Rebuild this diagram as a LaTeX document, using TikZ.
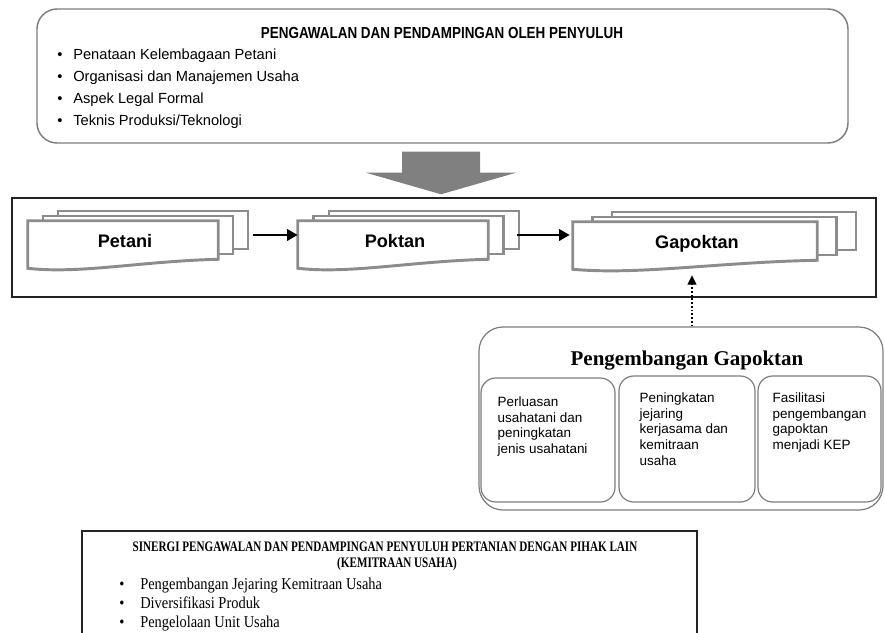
\documentclass[tikz,border=0pt]{standalone}
\usepackage{fontspec}
\setmainfont{Liberation Sans}
\newfontfamily\serifface{Liberation Serif}
\usetikzlibrary{arrows.meta,calc,fit}
\definecolor{docgray}{RGB}{140,140,140}
\definecolor{arrowgray}{RGB}{128,128,128}
\definecolor{boxgray}{RGB}{125,125,125}
\definecolor{framedark}{RGB}{35,35,35}
\newcommand\multidoc[6]{%
  \node[docback, fit={({#2+2*#5},{#3-10}) ({#2+2*#5+#4},{#3+28})}] (#13) {};
  \node[docback, fit={({#2+#5},{#3-5}) ({#2+#5+#4},{#3+33})}] (#12) {};
  \node[docfront, fit={(#2,#3) ({#2+#4},{#3+38})}] (#1) {};
  \draw[docline] (#1.north west) -- (#1.north east) -- (#1.south east)
     .. controls ($(#1.south west)!0.59!(#1.south east)+(0,2)$) and ($(#1.south west)!0.27!(#1.south east)+(0,15)$) .. ($(#1.south west)+(0,9)$) -- cycle;
  \node[doctext] (#1t) at ($(#1.center)+(2,7)$) {#6};
}
\begin{document}
\begin{tikzpicture}[x=0.75pt,y=-0.75pt,
  docback/.style={draw=docgray, line width=2.2pt, fill=white, inner sep=0pt},
  docfront/.style={inner sep=0pt},
  docline/.style={draw=docgray, line width=2.2pt, fill=white},
  doctext/.style={anchor=base, font=\fontsize{13.6}{16}\selectfont\bfseries, inner sep=0pt},
  topbox/.style={draw=boxgray, line width=1.1pt, rounded corners=15pt, inner sep=0pt},
  mainframe/.style={draw=framedark, line width=1.1pt, inner sep=0pt},
  pengbox/.style={draw=boxgray, line width=0.9pt, rounded corners=18pt, inner sep=0pt},
  subbox/.style={draw=boxgray, line width=0.9pt, rounded corners=11pt, inner sep=0pt, fill=white},
  sinbox/.style={draw=framedark, line width=1.4pt, inner sep=0pt},
  topitem/.style={anchor=base west, inner sep=0pt, font=\fontsize{11}{13}\selectfont},
  intext/.style={anchor=north west, inner sep=0pt, align=left, font=\fontsize{10.1}{11.8}\selectfont},
  sinitem/.style={anchor=base west, inner sep=0pt, font=\fontsize{12.45}{14}\serifface},
  conn/.style={line width=2.2pt, -{Triangle[length=8pt,width=8.5pt]}},
  dotconn/.style={line width=1.5pt, dash pattern=on 1.4pt off 1.4pt, -{Triangle[length=7pt,width=6.5pt]}},
]
\useasboundingbox (0,0) rectangle (885,632);
\clip (0,0) rectangle (885,632);

% top box
\node[topbox, fit={(37,9) (848,143)}] (top) {};
\node[inner sep=0pt, font=\fontsize{12}{14}\selectfont\bfseries] (toptitle) at (442,33)
  {\scalebox{0.84}[1]{PENGAWALAN DAN PENDAMPINGAN OLEH PENYULUH}};
\foreach \t [count=\i] in {Penataan Kelembagaan Petani, Organisasi dan Manajemen Usaha, Aspek Legal Formal, Teknis Produksi/Teknologi}
  \node[topitem] (tb\i) at (57,{37+22*\i}) {\makebox[12pt][l]{•}\t};

% main frame
\node[mainframe, fit={(12,198) (876,297)}] (main) {};

% big block arrow
\fill[arrowgray] ($(top.south)+(-40.5,8)$) -- ($(top.south)+(37.5,8)$) -- ($(top.south)+(37.5,29)$)
  -- ($(top.south)+(73.5,29)$) -- ($(main.north)+(-3,-3)$) -- ($(top.south)+(-76.5,29)$)
  -- ($(top.south)+(-40.5,29)$) -- cycle;

% documents
\multidoc{pet}{28}{221}{190}{15}{Petani}
\multidoc{pok}{298}{221}{190}{15.5}{Poktan}
\multidoc{gap}{573}{222}{244}{19.5}{Gapoktan}

\draw[conn] ($(pet3.east)+(4,5)$) -- ($(pok.west)+(0,-5)$);
\draw[conn] ($(pok3.east)+(-3,5)$) -- ($(gap.west)+(-3,-6)$);

% Pengembangan Gapoktan
\node[pengbox, fit={(479,327) (883,510)}] (peng) {};
\node[anchor=base, inner sep=0pt, font=\fontsize{15.75}{18}\serifface\bfseries] (pengt) at (687,365) {Pengembangan Gapoktan};
\node[subbox, fit={(481,378) (615,502)}] (b1) {};
\node[subbox, fit={(619,376) (755,502)}] (b2) {};
\node[subbox, fit={(758,376) (881,502)}] (b3) {};
\node[intext] (b1t) at ($(b1.north west)+(17,19)$) {Perluasan\\usahatani dan\\peningkatan\\jenis usahatani};
\node[intext] (b2t) at ($(b2.north west)+(21,17)$) {Peningkatan\\jejaring\\kerjasama dan\\kemitraan\\usaha};
\node[intext] (b3t) at ($(b3.north west)+(15,17)$) {Fasilitasi\\pengembangan\\gapoktan\\menjadi KEP};

\draw[dotconn] ($(gap.south |- peng.north)+(-3,0)$) -- ($(gap.south)+(-3,15)$);

% bottom box
\node[sinbox, fit={(82,531) (697,680)}] (sin) {};
\node[anchor=base, inner sep=0pt, font=\fontsize{10.9}{12}\serifface\bfseries] (sint1) at (385,551)
  {\scalebox{0.765}[1]{SINERGI PENGAWALAN DAN PENDAMPINGAN PENYULUH PERTANIAN DENGAN PIHAK LAIN}};
\node[anchor=base, inner sep=0pt, font=\fontsize{10.9}{12}\serifface\bfseries] (sint2) at (397,567)
  {\scalebox{0.765}[1]{(KEMITRAAN USAHA)}};
\foreach \t [count=\i] in {Pengembangan Jejaring Kemitraan Usaha, Diversifikasi Produk, Pengelolaan Unit Usaha}
  \node[sinitem] (sb\i) at (119,{570+19*\i}) {\makebox[15.75pt][l]{\scalebox{0.87}[1]{•}}\scalebox{0.87}[1]{\t}};
\end{tikzpicture}
\end{document}
